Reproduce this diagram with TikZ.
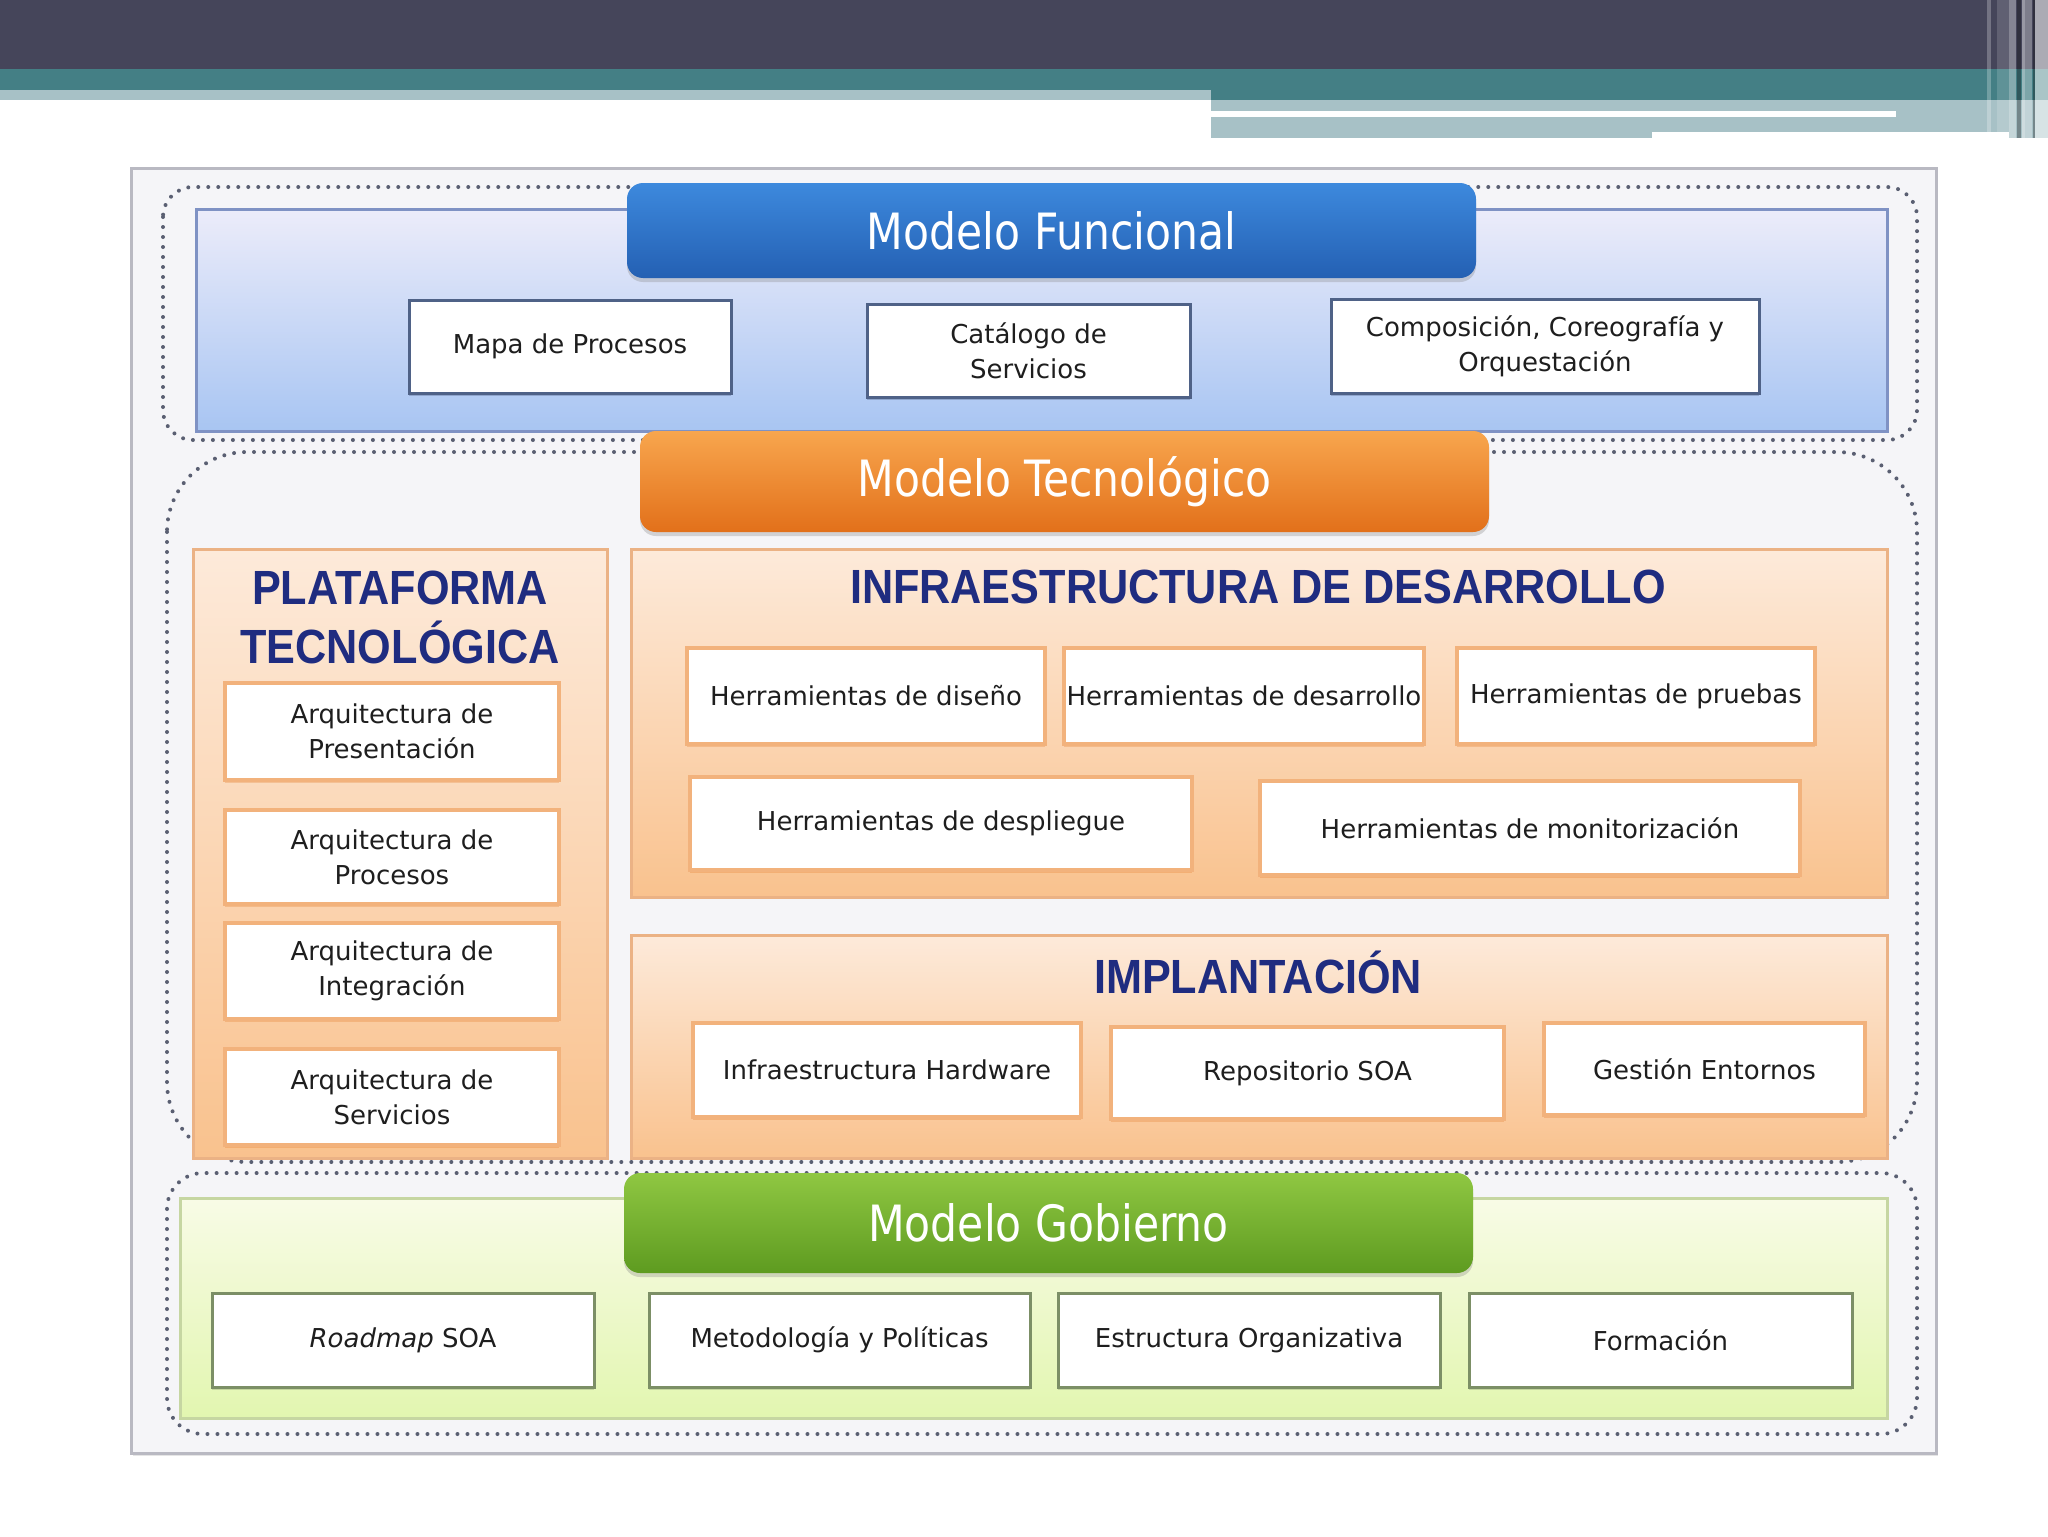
\documentclass[tikz,border=0pt]{standalone}
\usepackage{fontspec}
\setmainfont{DejaVu Sans}
\newfontfamily\hdfont[FakeStretch=0.85]{DejaVu Sans}
\newfontfamily\ttlfont[FakeStretch=0.9]{Liberation Sans}
\usetikzlibrary{shadows}
\definecolor{hdark}{HTML}{45455A}
\definecolor{hteal}{HTML}{447F85}
\definecolor{hlight}{HTML}{A7C1C6}
\definecolor{framec}{HTML}{B9B9C2}
\definecolor{framef}{HTML}{F5F5F8}
\definecolor{dotc}{HTML}{5A5F72}
\definecolor{txtc}{HTML}{1E1E1E}
\definecolor{ttlc}{HTML}{1F2C80}
\definecolor{fbtop}{HTML}{ECECFA}
\definecolor{fbbot}{HTML}{A8C5F2}
\definecolor{fbord}{HTML}{7F92C4}
\definecolor{fboxb}{HTML}{4F6287}
\definecolor{bltop}{HTML}{3D89DD}
\definecolor{blbot}{HTML}{2460B3}
\definecolor{ortop}{HTML}{F8A64E}
\definecolor{orbot}{HTML}{E2701A}
\definecolor{pntop}{HTML}{FDEADA}
\definecolor{pnbot}{HTML}{F9C28E}
\definecolor{pnbord}{HTML}{EBB285}
\definecolor{oboxb}{HTML}{F2B27C}
\definecolor{grtop}{HTML}{8FC742}
\definecolor{grbot}{HTML}{5E9B20}
\definecolor{gptop}{HTML}{F8FBE6}
\definecolor{gpbot}{HTML}{E2F6B0}
\definecolor{gpbord}{HTML}{C6D6A2}
\definecolor{gboxb}{HTML}{7C8F66}
\newcommand\bx[7]{\node[#6, minimum width={(#4)*0.5pt-(#2)*0.5pt}, minimum height={(#5)*0.5pt-(#3)*0.5pt}] (#1) at ({((#2)+(#4))/2},{((#3)+(#5))/2}) {#7};}
\tikzset{
  sbox/.style={font=\fontsize{13}{17.5}\selectfont, text=txtc, align=center, inner sep=0pt},
  fbx/.style={sbox, draw=fboxb, line width=1.5pt, fill=white, drop shadow={shadow xshift=0pt, shadow yshift=-1.5pt, opacity=0.35, fill=fboxb}},
  obx/.style={sbox, draw=oboxb, line width=2pt, fill=white, drop shadow={shadow xshift=0pt, shadow yshift=-1.5pt, opacity=0.25, fill=orbot}},
  gbx/.style={sbox, draw=gboxb, line width=1.5pt, fill=white, drop shadow={shadow xshift=0pt, shadow yshift=-1.5pt, opacity=0.3, fill=gboxb}},
  hdr/.style={rounded corners=8pt, font=\hdfont\fontsize{25}{30}\selectfont, text=white, inner sep=0pt, drop shadow={shadow xshift=0pt, shadow yshift=-2pt, opacity=0.3}},
  framebox/.style={draw=framec, line width=1.5pt, fill=framef, drop shadow={shadow xshift=1pt, shadow yshift=-1.5pt, opacity=0.2}},
  fpanel/.style={draw=fbord, line width=1.5pt, top color=fbtop, bottom color=fbbot},
  opanel/.style={draw=pnbord, line width=1.5pt, top color=pntop, bottom color=pnbot},
  gpanel/.style={draw=gpbord, line width=1.5pt, top color=gptop, bottom color=gpbot},
  dotline/.style={draw=dotc, line width=2pt, dash pattern=on 0pt off 5pt, line cap=round},
  ttl/.style={font=\ttlfont\bfseries\fontsize{24}{29.5}\selectfont, text=ttlc, align=center, inner sep=0pt}
}
\begin{document}
\begin{tikzpicture}[x=0.5pt,y=-0.5pt]
\useasboundingbox (0,0) rectangle (2048,1536);
\fill[white] (0,0) rectangle (2048,1536);
% slide header bands
\fill[hdark] (0,0) rectangle (2048,69);
\fill[hteal] (0,69) rectangle (2048,90);
\fill[hteal] (1211,90) rectangle (2048,100);
\fill[hlight] (0,90) rectangle (1211,100);
\fill[hlight] (1211,100) rectangle (2048,138);
\fill[white] (1211,111) rectangle (1896,117);
\fill[white] (1652,132) rectangle (2009,138);
\fill[white,opacity=0.25] (1987,0) rectangle (1991,138);
\fill[white,opacity=0.15] (1997,0) rectangle (2009,132);
\fill[white,opacity=0.35] (2009,0) rectangle (2016,138);
\fill[black,opacity=0.3] (2017,0) rectangle (2021,138);
\fill[white,opacity=0.45] (2022,0) rectangle (2025,138);
\fill[white,opacity=0.3] (2025,0) rectangle (2032,138);
\fill[black,opacity=0.3] (2033,0) rectangle (2035,138);
\fill[white,opacity=0.55] (2035,0) rectangle (2048,138);
% frame
\bx{frame}{131}{168}{1936}{1453}{framebox}{}
% dotted outlines
\draw[dotline, rounded corners=15pt] (163,187) rectangle (1917,440);
\draw[dotline, rounded corners=40pt] (167,452) rectangle (1917,1162);
\draw[dotline, rounded corners=18pt] (167,1173) rectangle (1917,1434);
% Modelo Funcional
\bx{fpan}{196}{209}{1887}{431}{fpanel}{}
\bx{mfun}{627}{183}{1476}{278}{hdr, top color=bltop, bottom color=blbot}{Modelo Funcional}
\bx{mapa}{409}{300}{731}{393}{fbx}{Mapa de Procesos}
\bx{cata}{867}{304}{1190}{397}{fbx}{Catálogo de\\Servicios}
\bx{comp}{1331}{299}{1759}{393}{fbx}{Composición, Coreografía y\\Orquestación}
% Modelo Tecnologico
\bx{plat}{193}{549}{607}{1158}{opanel}{}
\bx{infr}{631}{549}{1887}{897}{opanel}{}
\bx{impl}{631}{935}{1887}{1158}{opanel}{}
\bx{mtec}{640}{431}{1489}{532}{hdr, top color=ortop, bottom color=orbot}{Modelo Tecnológico}
\node[ttl] (platt) at (400,617) {PLATAFORMA\\TECNOLÓGICA};
\bx{apre}{225}{683}{559}{780}{obx}{Arquitectura de\\Presentación}
\bx{apro}{225}{810}{559}{904}{obx}{Arquitectura de\\Procesos}
\bx{aint}{225}{923}{559}{1019}{obx}{Arquitectura de\\Integración}
\bx{aser}{225}{1049}{559}{1145}{obx}{Arquitectura de\\Servicios}
\node[ttl] (infrt) at (1258,587) {INFRAESTRUCTURA DE DESARROLLO};
\bx{hdis}{687}{648}{1045}{744}{obx}{Herramientas de diseño}
\bx{hdes}{1064}{648}{1424}{744}{obx}{Herramientas de desarrollo}
\bx{hpru}{1457}{648}{1815}{744}{obx}{Herramientas de pruebas}
\bx{hdep}{690}{777}{1192}{870}{obx}{Herramientas de despliegue}
\bx{hmon}{1260}{781}{1800}{875}{obx}{Herramientas de monitorización}
\node[ttl] (implt) at (1258,972) {IMPLANTACIÓN};
\bx{ihar}{693}{1023}{1081}{1117}{obx}{Infraestructura Hardware}
\bx{irep}{1111}{1027}{1504}{1119}{obx}{Repositorio SOA}
\bx{iges}{1544}{1023}{1865}{1115}{obx}{Gestión Entornos}
% Modelo Gobierno
\bx{gpan}{180}{1198}{1887}{1418}{gpanel}{}
\bx{mgob}{624}{1173}{1473}{1273}{hdr, top color=grtop, bottom color=grbot}{Modelo Gobierno}
\bx{road}{212}{1293}{594}{1387}{gbx}{\textit{Roadmap} SOA}
\bx{meto}{649}{1293}{1030}{1387}{gbx}{Metodología y Políticas}
\bx{estr}{1058}{1293}{1440}{1387}{gbx}{Estructura Organizativa}
\bx{form}{1469}{1293}{1852}{1387}{gbx}{Formación}
\end{tikzpicture}
\end{document}
